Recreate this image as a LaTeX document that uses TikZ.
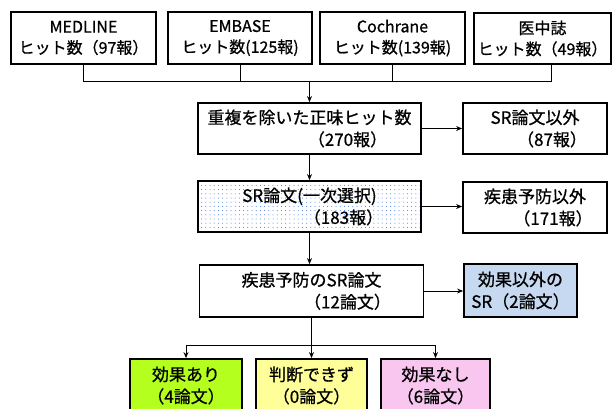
\documentclass[tikz,border=0pt]{standalone}
\usepackage{fontspec}
\setmainfont{Noto Sans CJK JP}[FakeBold=0.8]
\newfontfamily\jpb{Noto Sans CJK JP}[FakeBold=0.8]
\usetikzlibrary{arrows.meta,patterns.meta}
\definecolor{cgreen}{HTML}{B5FF1F}
\definecolor{cyellow}{HTML}{FFFF99}
\definecolor{cpink}{HTML}{F9C6EF}
\definecolor{cblue}{HTML}{C6D9F1}
\definecolor{cdot}{HTML}{3A6FE8}
\newcommand{\fs}{\jpb\fontsize{16}{21}\selectfont}
\newcommand{\fm}{\jpb\fontsize{17}{22}\selectfont}
\begin{document}
\begin{tikzpicture}[x=1pt,y=-1pt,
  box/.style={draw, line width=1.8pt, inner sep=0pt, align=center, font=\fm, fill=white},
  topbox/.style={box, font=\fs},
  conn/.style={line width=1pt},
  arr/.style={line width=1pt, -{Stealth[length=6pt,width=5pt]}}]
\useasboundingbox (0,0) rectangle (616,408);
\clip (0,0) rectangle (616,408);
% top row
\node[topbox, minimum width=145pt, minimum height=52pt] (m1) at (83.5,38) {MEDLINE\\ヒット数（97報）};
\node[topbox, minimum width=144pt, minimum height=52pt] (m2) at (240,38) {EMBASE\\ヒット数(125報)};
\node[topbox, minimum width=145pt, minimum height=52pt] (m3) at (392.5,38) {Cochrane\\ヒット数(139報)};
\node[topbox, minimum width=137pt, minimum height=51pt] (m4) at (542.5,38.5) {医中誌\\ヒット数（49報）};
% main column
\node[box, minimum width=223pt, minimum height=51pt] (dup) at (309.5,128.5) {重複を除いた正味ヒット数\\\hspace*{76pt}（270報）};
\node[box, minimum width=144pt, minimum height=51pt] (ex1) at (535,128.5) {SR論文以外\\\hspace*{34pt}（87報）};
\node[box, minimum width=223pt, minimum height=51pt, preaction={fill=white}, pattern={Dots[distance=4.2pt,radius=0.5pt]}, pattern color=cdot] (sr) at (309.5,206.5) {SR論文(一次選択)\\\hspace*{68pt}（183報）};
\node[box, minimum width=144pt, minimum height=51pt] (ex2) at (535,207.5) {疾患予防以外\\\hspace*{36pt}（171報）};
\node[box, minimum width=224pt, minimum height=52pt] (pr) at (311.5,291) {疾患予防のSR論文\\\hspace*{72pt}（12論文）};
\node[box, minimum width=113pt, minimum height=53pt, fill=cblue] (ex3) at (520.5,290.5) {効果以外の\\SR（2論文）};
% bottom row
\node[box, minimum width=112pt, minimum height=53pt, fill=cgreen] (r1) at (186,385.5) {効果あり\\（4論文）};
\node[box, minimum width=111pt, minimum height=53pt, fill=cyellow] (r2) at (311.5,385.5) {判断できず\\（0論文）};
\node[box, minimum width=109pt, minimum height=53pt, fill=cpink] (r3) at (435.5,385.5) {効果なし\\（6論文）};
% connectors
\coordinate (j1) at (309.5,81);
\draw[conn] (m1.south) -- (m1.south |- j1) -- ([xshift=8.5pt]m4.south |- j1) -- ([xshift=8.5pt]m4.south);
\draw[conn] (m2.south) -- (m2.south |- j1);
\draw[conn] (m3.south) -- (m3.south |- j1);
\draw[arr] (j1) -- (dup.north);
\draw[arr] (dup.east) -- (dup.east -| ex1.west);
\draw[arr] (dup.south) -- (sr.north);
\draw[arr] (sr.east) -- (sr.east -| ex2.west);
\draw[arr] (sr.south) -- (sr.south |- pr.north);
\draw[arr] (pr.east) -- (pr.east -| ex3.west);
\coordinate (j2) at (311.5,345);
\draw[conn] (pr.south) -- (j2);
\draw[arr] (j2) -- (r2.north);
\draw[arr] (j2) -| (r1.north);
\draw[arr] (j2) -| (r3.north);
\end{tikzpicture}
\end{document}
